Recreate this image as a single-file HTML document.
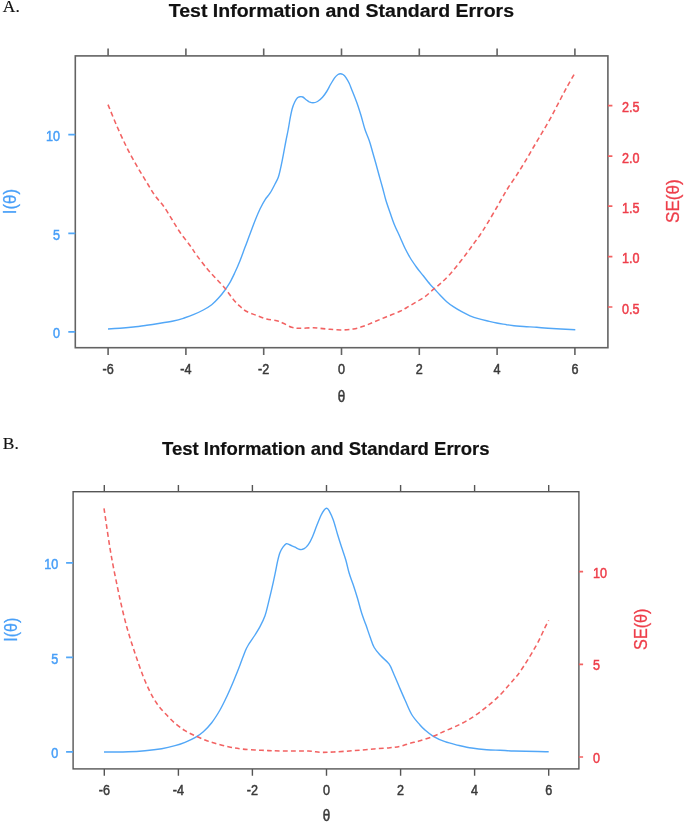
<!DOCTYPE html><html><head><meta charset="utf-8"><title>Test Information and Standard Errors</title>
<style>html,body{margin:0;padding:0;background:#fff}svg{display:block}text{font-family:"Liberation Sans",Arial,sans-serif}.ser{font-family:"Liberation Serif","Times New Roman",serif}</style></head><body>
<svg width="685" height="822" viewBox="0 0 685 822">
<rect width="685" height="822" fill="#fff"/>
<rect x="75.3" y="55.9" width="532.6" height="291.8" fill="none" stroke="#636363" stroke-width="1.6"/>
<text transform="translate(108.1,374.4) scale(1.0,1.15)" font-size="12.6" font-weight="normal" fill="#3a3a3a" stroke="#3a3a3a" stroke-width="0.45" text-anchor="middle">-6</text>
<text transform="translate(185.9,374.4) scale(1.0,1.15)" font-size="12.6" font-weight="normal" fill="#3a3a3a" stroke="#3a3a3a" stroke-width="0.45" text-anchor="middle">-4</text>
<text transform="translate(263.7,374.4) scale(1.0,1.15)" font-size="12.6" font-weight="normal" fill="#3a3a3a" stroke="#3a3a3a" stroke-width="0.45" text-anchor="middle">-2</text>
<text transform="translate(341.5,374.4) scale(1.0,1.15)" font-size="12.6" font-weight="normal" fill="#3a3a3a" stroke="#3a3a3a" stroke-width="0.45" text-anchor="middle">0</text>
<text transform="translate(419.3,374.4) scale(1.0,1.15)" font-size="12.6" font-weight="normal" fill="#3a3a3a" stroke="#3a3a3a" stroke-width="0.45" text-anchor="middle">2</text>
<text transform="translate(497.1,374.4) scale(1.0,1.15)" font-size="12.6" font-weight="normal" fill="#3a3a3a" stroke="#3a3a3a" stroke-width="0.45" text-anchor="middle">4</text>
<text transform="translate(574.9,374.4) scale(1.0,1.15)" font-size="12.6" font-weight="normal" fill="#3a3a3a" stroke="#3a3a3a" stroke-width="0.45" text-anchor="middle">6</text>
<path d="M108.1,347.7v7.3M108.1,55.9v-7.3M185.9,347.7v7.3M185.9,55.9v-7.3M263.7,347.7v7.3M263.7,55.9v-7.3M341.5,347.7v7.3M341.5,55.9v-7.3M419.3,347.7v7.3M419.3,55.9v-7.3M497.1,347.7v7.3M497.1,55.9v-7.3M574.9,347.7v7.3M574.9,55.9v-7.3" stroke="#636363" stroke-width="1.6" fill="none"/>
<text transform="translate(60,338.4) scale(1.0,1.15)" font-size="12.6" font-weight="normal" fill="#489ff8" stroke="#489ff8" stroke-width="0.45" text-anchor="end">0</text>
<text transform="translate(60,239.8) scale(1.0,1.15)" font-size="12.6" font-weight="normal" fill="#489ff8" stroke="#489ff8" stroke-width="0.45" text-anchor="end">5</text>
<text transform="translate(60,141.2) scale(1.0,1.15)" font-size="12.6" font-weight="normal" fill="#489ff8" stroke="#489ff8" stroke-width="0.45" text-anchor="end">10</text>
<path d="M75.3,331.9h-7M75.3,233.3h-7M75.3,134.7h-7" stroke="#52a7f7" stroke-width="1.7" fill="none"/>
<text transform="translate(622,313.5) scale(1.0,1.15)" font-size="12.6" font-weight="normal" fill="#ee3e4a" stroke="#ee3e4a" stroke-width="0.45" text-anchor="start">0.5</text>
<text transform="translate(622,263.1) scale(1.0,1.15)" font-size="12.6" font-weight="normal" fill="#ee3e4a" stroke="#ee3e4a" stroke-width="0.45" text-anchor="start">1.0</text>
<text transform="translate(622,212.7) scale(1.0,1.15)" font-size="12.6" font-weight="normal" fill="#ee3e4a" stroke="#ee3e4a" stroke-width="0.45" text-anchor="start">1.5</text>
<text transform="translate(622,162.6) scale(1.0,1.15)" font-size="12.6" font-weight="normal" fill="#ee3e4a" stroke="#ee3e4a" stroke-width="0.45" text-anchor="start">2.0</text>
<text transform="translate(622,112.1) scale(1.0,1.15)" font-size="12.6" font-weight="normal" fill="#ee3e4a" stroke="#ee3e4a" stroke-width="0.45" text-anchor="start">2.5</text>
<path d="M607.9,307.0h4.5M607.9,256.6h4.5M607.9,206.2h4.5M607.9,156.1h4.5M607.9,105.6h4.5" stroke="#f26262" stroke-width="1.7" fill="none"/>
<path d="M108.0,329.0C110.0,328.9 115.8,328.6 120.0,328.3C124.2,328.0 128.9,327.5 133.3,327.0C137.8,326.5 142.2,325.9 146.7,325.3C151.1,324.7 155.6,324.0 160.0,323.3C164.4,322.6 169.4,321.8 173.3,321.0C177.2,320.2 180.0,319.4 183.3,318.3C186.6,317.2 190.0,316.1 193.3,314.7C196.6,313.3 200.2,311.7 203.3,310.0C206.4,308.3 209.2,306.6 211.7,304.7C214.2,302.8 216.1,300.8 218.3,298.3C220.5,295.9 223.1,292.7 225.0,290.0C226.9,287.3 228.3,285.2 230.0,282.3C231.7,279.4 233.3,275.9 235.0,272.3C236.7,268.7 238.3,264.9 240.0,260.7C241.7,256.5 243.3,251.8 245.0,247.3C246.7,242.9 248.3,238.4 250.0,234.0C251.7,229.6 253.3,224.9 255.0,220.7C256.7,216.5 258.3,212.5 260.0,209.0C261.7,205.5 263.3,202.4 265.0,199.8C266.7,197.2 268.3,195.8 270.0,193.2C271.7,190.6 273.6,186.7 275.0,184.0C276.4,181.3 277.3,180.1 278.3,177.3C279.3,174.5 280.0,171.1 280.8,167.3C281.6,163.6 282.5,159.1 283.3,154.8C284.1,150.5 285.0,145.8 285.8,141.5C286.6,137.2 287.6,133.0 288.3,129.0C289.1,125.0 289.6,120.8 290.3,117.3C291.0,113.8 291.7,110.3 292.5,107.7C293.3,105.1 294.2,103.2 295.0,101.5C295.8,99.8 296.7,98.5 297.5,97.7C298.3,96.9 299.1,96.8 300.0,96.7C300.9,96.6 301.8,96.5 302.8,97.0C303.8,97.5 304.7,98.7 305.8,99.5C306.9,100.3 308.0,101.2 309.2,101.8C310.4,102.3 311.6,102.8 313.0,102.8C314.4,102.8 315.9,102.4 317.5,101.5C319.1,100.6 321.0,99.0 322.5,97.3C324.0,95.6 325.3,93.7 326.7,91.5C328.1,89.3 329.4,86.4 330.8,84.0C332.2,81.6 333.8,78.9 335.0,77.3C336.2,75.7 337.1,75.1 338.0,74.5C338.9,73.9 339.5,73.7 340.3,73.7C341.1,73.7 342.1,73.9 343.0,74.5C343.9,75.1 344.8,75.8 345.8,77.3C346.8,78.8 348.1,80.8 349.2,83.2C350.3,85.6 351.2,88.3 352.5,91.5C353.8,94.7 355.3,98.4 356.7,102.3C358.1,106.2 359.4,110.3 360.8,114.8C362.2,119.3 363.5,125.0 364.9,129.3C366.3,133.6 367.9,136.8 369.2,140.5C370.5,144.2 371.4,147.9 372.5,151.7C373.6,155.5 374.7,159.3 375.8,163.3C376.9,167.3 378.1,171.8 379.2,175.8C380.3,179.8 381.4,183.5 382.5,187.5C383.6,191.5 384.6,195.8 385.8,200.0C387.1,204.2 388.6,208.5 390.0,212.5C391.4,216.5 392.5,220.1 394.2,224.2C395.9,228.3 398.2,233.0 400.0,237.0C401.8,241.0 403.3,244.9 405.0,248.3C406.7,251.7 408.1,254.3 410.0,257.5C411.9,260.7 414.5,264.4 416.7,267.5C418.9,270.6 421.1,273.0 423.3,275.8C425.5,278.6 428.2,282.1 430.0,284.2C431.8,286.3 432.5,286.9 434.2,288.7C435.9,290.5 437.9,292.8 440.0,295.0C442.1,297.2 444.5,299.8 446.7,301.7C448.9,303.6 450.8,305.0 453.3,306.7C455.8,308.4 458.9,310.2 461.7,311.7C464.5,313.2 467.2,314.6 470.0,315.8C472.8,317.0 475.5,317.9 478.3,318.7C481.1,319.5 483.6,320.1 486.7,320.8C489.8,321.5 493.4,322.4 496.7,323.0C500.0,323.6 503.8,324.2 506.7,324.7C509.6,325.1 511.8,325.4 514.0,325.7C516.2,326.0 516.2,326.0 520.0,326.3C523.8,326.6 532.0,327.0 536.7,327.3C541.4,327.6 541.6,327.9 548.0,328.3C554.4,328.7 570.8,329.5 575.3,329.7" stroke="#52a7f7" stroke-width="1.4" fill="none" stroke-linejoin="round"/>
<path d="M108.0,104.6C109.5,108.1 113.6,118.6 116.7,125.7C119.8,132.8 123.4,140.6 126.7,147.3C130.0,154.0 133.4,159.9 136.7,165.7C140.0,171.5 143.6,177.3 146.7,182.3C149.8,187.3 152.2,191.8 155.0,195.7C157.8,199.6 160.5,201.8 163.3,205.7C166.1,209.6 168.9,214.6 171.7,219.0C174.5,223.4 176.9,227.9 180.0,232.3C183.1,236.7 187.2,241.7 190.0,245.5C192.8,249.3 193.9,251.5 196.7,255.3C199.5,259.1 203.6,264.6 206.7,268.3C209.8,272.0 211.9,274.2 215.0,277.5C218.1,280.8 221.9,284.6 225.0,288.3C228.1,292.0 230.8,296.5 233.3,299.5C235.8,302.5 237.8,304.3 240.0,306.3C242.2,308.3 243.9,310.0 246.7,311.5C249.5,313.0 253.4,314.2 256.7,315.5C260.0,316.8 263.4,318.1 266.7,319.0C270.0,319.9 273.9,320.0 276.7,320.7C279.5,321.4 280.8,322.2 283.3,323.3C285.8,324.4 288.9,326.5 291.7,327.3C294.5,328.1 296.4,328.2 300.0,328.3C303.6,328.4 310.0,327.7 313.3,327.7C316.6,327.7 317.2,328.0 320.0,328.3C322.8,328.6 326.4,329.0 330.0,329.3C333.6,329.6 337.8,330.1 341.7,330.0C345.6,329.9 349.7,329.6 353.3,329.0C356.9,328.4 360.0,327.4 363.3,326.3C366.6,325.2 369.4,323.9 373.3,322.3C377.2,320.7 382.2,318.5 386.7,316.7C391.1,314.9 396.4,313.0 400.0,311.3C403.6,309.6 405.5,308.3 408.3,306.7C411.1,305.1 413.9,303.4 416.7,301.7C419.5,300.0 422.1,298.9 425.0,296.7C427.9,294.5 431.4,291.1 434.2,288.7C437.0,286.3 439.1,284.9 441.7,282.5C444.3,280.1 447.2,277.2 450.0,274.2C452.8,271.1 455.5,267.7 458.3,264.2C461.1,260.7 464.2,256.6 466.7,253.3C469.2,250.0 471.1,247.2 473.3,244.2C475.5,241.1 477.8,238.3 480.0,235.0C482.2,231.7 483.9,229.1 486.7,224.5C489.5,219.9 494.0,212.2 496.7,207.5C499.4,202.8 501.1,199.8 503.0,196.5C504.9,193.2 506.0,191.1 508.3,187.5C510.6,183.9 513.9,179.3 516.7,175.0C519.5,170.7 522.2,166.3 525.0,161.7C527.8,157.1 530.5,152.2 533.3,147.5C536.1,142.8 538.9,138.0 541.7,133.3C544.5,128.6 547.2,124.2 550.0,119.2C552.8,114.2 555.5,108.6 558.3,103.3C561.1,98.0 564.1,92.3 566.7,87.5C569.4,82.7 573.0,76.4 574.2,74.2" stroke="#f26262" stroke-width="1.55" fill="none" stroke-dasharray="4.8 3.2" stroke-linejoin="round"/>
<text transform="translate(341.4,17.3) scale(1.055,1.0)" font-size="18.5" font-weight="bold" fill="#111" stroke="#111" stroke-width="0.2" text-anchor="middle">Test Information and Standard Errors</text>
<text transform="translate(341.5,401.5) scale(1.0,1.2)" font-size="13.4" font-weight="normal" fill="#3a3a3a" stroke="#3a3a3a" stroke-width="0.45" text-anchor="middle">θ</text>
<text transform="translate(16.3,201.6) rotate(-90) scale(1.0,1.12)" font-size="16.8" font-weight="normal" fill="#489ff8" stroke="#489ff8" stroke-width="0.25" text-anchor="middle">I(θ)</text>
<text transform="translate(678.6,201.1) rotate(-90) scale(1.0,1.12)" font-size="17.1" font-weight="normal" fill="#ee3e4a" stroke="#ee3e4a" stroke-width="0.25" text-anchor="middle">SE(θ)</text>
<rect x="73.1" y="491.7" width="505.79999999999995" height="277.2" fill="none" stroke="#555" stroke-width="1.4"/>
<text transform="translate(104.3,795.0) scale(1.0,1.15)" font-size="12.6" font-weight="normal" fill="#3a3a3a" stroke="#3a3a3a" stroke-width="0.45" text-anchor="middle">-6</text>
<text transform="translate(178.4,795.0) scale(1.0,1.15)" font-size="12.6" font-weight="normal" fill="#3a3a3a" stroke="#3a3a3a" stroke-width="0.45" text-anchor="middle">-4</text>
<text transform="translate(252.4,795.0) scale(1.0,1.15)" font-size="12.6" font-weight="normal" fill="#3a3a3a" stroke="#3a3a3a" stroke-width="0.45" text-anchor="middle">-2</text>
<text transform="translate(326.5,795.0) scale(1.0,1.15)" font-size="12.6" font-weight="normal" fill="#3a3a3a" stroke="#3a3a3a" stroke-width="0.45" text-anchor="middle">0</text>
<text transform="translate(400.6,795.0) scale(1.0,1.15)" font-size="12.6" font-weight="normal" fill="#3a3a3a" stroke="#3a3a3a" stroke-width="0.45" text-anchor="middle">2</text>
<text transform="translate(474.6,795.0) scale(1.0,1.15)" font-size="12.6" font-weight="normal" fill="#3a3a3a" stroke="#3a3a3a" stroke-width="0.45" text-anchor="middle">4</text>
<text transform="translate(548.7,795.0) scale(1.0,1.15)" font-size="12.6" font-weight="normal" fill="#3a3a3a" stroke="#3a3a3a" stroke-width="0.45" text-anchor="middle">6</text>
<path d="M104.3,768.9v6.8M104.3,491.7v-6.8M178.4,768.9v6.8M178.4,491.7v-6.8M252.4,768.9v6.8M252.4,491.7v-6.8M326.5,768.9v6.8M326.5,491.7v-6.8M400.6,768.9v6.8M400.6,491.7v-6.8M474.6,768.9v6.8M474.6,491.7v-6.8M548.7,768.9v6.8M548.7,491.7v-6.8" stroke="#555" stroke-width="1.4" fill="none"/>
<text transform="translate(58.3,758.3) scale(1.0,1.15)" font-size="12.6" font-weight="normal" fill="#489ff8" stroke="#489ff8" stroke-width="0.45" text-anchor="end">0</text>
<text transform="translate(58.3,663.8) scale(1.0,1.15)" font-size="12.6" font-weight="normal" fill="#489ff8" stroke="#489ff8" stroke-width="0.45" text-anchor="end">5</text>
<text transform="translate(58.3,569.3) scale(1.0,1.15)" font-size="12.6" font-weight="normal" fill="#489ff8" stroke="#489ff8" stroke-width="0.45" text-anchor="end">10</text>
<path d="M73.1,751.8h-7M73.1,657.3h-7M73.1,562.8h-7" stroke="#52a7f7" stroke-width="1.7" fill="none"/>
<text transform="translate(593,762.9) scale(1.0,1.15)" font-size="12.6" font-weight="normal" fill="#ee3e4a" stroke="#ee3e4a" stroke-width="0.45" text-anchor="start">0</text>
<text transform="translate(593,670.2) scale(1.0,1.15)" font-size="12.6" font-weight="normal" fill="#ee3e4a" stroke="#ee3e4a" stroke-width="0.45" text-anchor="start">5</text>
<text transform="translate(593,577.6) scale(1.0,1.15)" font-size="12.6" font-weight="normal" fill="#ee3e4a" stroke="#ee3e4a" stroke-width="0.45" text-anchor="start">10</text>
<path d="M578.9,757.0h4.2M578.9,664.3h4.2M578.9,571.7h4.2" stroke="#f26262" stroke-width="1.7" fill="none"/>
<path d="M104.0,752.0C108.0,752.0 121.5,751.9 128.3,751.7C135.1,751.5 139.4,751.2 145.0,750.7C150.6,750.2 156.7,749.5 161.7,748.7C166.7,747.9 171.1,746.8 175.0,745.7C178.9,744.6 181.7,743.6 185.0,742.3C188.3,741.0 191.9,739.5 195.0,737.7C198.1,735.9 200.5,734.2 203.3,731.7C206.1,729.2 208.9,726.3 211.7,722.7C214.5,719.1 217.5,714.3 220.0,710.0C222.5,705.7 224.5,701.4 226.7,696.7C228.9,692.0 231.1,687.0 233.3,681.7C235.5,676.4 238.1,670.0 240.0,665.0C241.9,660.0 243.6,655.0 245.0,651.7C246.4,648.4 246.6,647.8 248.3,645.0C250.0,642.2 253.1,638.0 255.0,635.0C256.9,632.0 258.3,629.9 260.0,626.7C261.7,623.5 263.6,619.7 265.0,615.8C266.4,611.9 267.2,607.7 268.3,603.3C269.4,598.9 270.6,594.1 271.7,589.2C272.8,584.4 274.0,578.8 275.0,574.2C276.0,569.6 276.7,565.3 277.5,561.7C278.3,558.1 279.0,555.0 280.0,552.5C281.0,550.0 282.2,548.2 283.3,546.7C284.4,545.2 285.2,544.0 286.3,543.7C287.4,543.4 288.6,544.4 290.0,545.0C291.4,545.6 293.3,546.5 295.0,547.2C296.7,548.0 298.5,549.2 300.0,549.5C301.5,549.8 302.8,549.5 304.2,548.7C305.6,547.9 306.9,546.7 308.3,544.7C309.7,542.7 311.1,539.9 312.5,536.7C313.9,533.6 315.3,529.3 316.7,525.8C318.1,522.3 319.6,518.4 320.8,515.8C322.1,513.2 323.2,511.2 324.2,510.0C325.2,508.8 325.9,508.2 326.7,508.3C327.5,508.4 328.1,508.9 329.2,510.8C330.3,512.8 331.9,516.1 333.3,520.0C334.7,523.9 336.1,529.6 337.5,534.2C338.9,538.8 340.3,543.2 341.7,547.5C343.1,551.8 344.6,555.7 345.8,560.0C347.1,564.3 347.9,569.1 349.2,573.3C350.4,577.5 351.9,580.8 353.3,585.0C354.7,589.2 356.1,593.6 357.5,598.3C358.9,603.0 360.3,608.9 361.7,613.3C363.1,617.7 364.4,620.7 365.8,624.6C367.2,628.5 368.6,632.9 370.0,636.7C371.4,640.5 372.4,644.3 374.2,647.5C376.0,650.7 378.3,653.0 380.8,655.8C383.3,658.6 387.0,661.0 389.2,664.2C391.4,667.4 392.5,671.2 394.2,675.0C395.9,678.8 397.4,682.5 399.2,686.7C401.0,690.9 402.9,695.4 405.0,700.0C407.1,704.6 409.2,710.3 411.7,714.5C414.2,718.7 417.8,722.4 420.0,725.0C422.2,727.6 422.8,728.1 425.0,730.0C427.2,731.9 430.0,734.3 433.3,736.3C436.6,738.2 440.8,740.2 445.0,741.7C449.2,743.2 453.9,744.2 458.3,745.3C462.8,746.3 467.0,747.3 471.7,748.0C476.4,748.7 482.0,749.3 486.7,749.7C491.4,750.1 495.4,750.1 500.0,750.3C504.6,750.5 507.7,750.8 514.0,751.0C520.3,751.2 532.2,751.4 538.0,751.5C543.8,751.6 546.9,751.8 548.7,751.8" stroke="#52a7f7" stroke-width="1.4" fill="none" stroke-linejoin="round"/>
<path d="M104.0,508.3C104.5,511.4 105.7,520.0 106.7,526.7C107.7,533.4 108.9,541.6 110.0,548.3C111.1,555.0 112.0,560.0 113.3,566.7C114.6,573.4 116.3,581.6 117.7,588.3C119.1,595.0 120.2,600.3 121.7,606.7C123.2,613.1 125.0,620.6 126.7,626.7C128.4,632.8 130.0,638.0 131.7,643.3C133.4,648.6 134.8,652.7 136.7,658.3C138.6,663.9 141.1,671.1 143.3,676.7C145.5,682.3 147.8,687.3 150.0,691.7C152.2,696.1 154.2,699.7 156.7,703.3C159.2,706.9 161.9,710.0 165.0,713.3C168.1,716.6 171.7,720.4 175.0,723.3C178.3,726.2 181.7,728.6 185.0,730.7C188.3,732.8 191.7,734.2 195.0,735.7C198.3,737.2 201.7,738.7 205.0,740.0C208.3,741.3 211.1,742.2 215.0,743.3C218.9,744.4 223.9,745.8 228.3,746.7C232.8,747.7 236.1,748.4 241.7,749.0C247.3,749.6 255.0,750.0 261.7,750.3C268.4,750.6 273.9,750.9 281.7,751.0C289.5,751.1 301.9,750.8 308.3,751.0C314.7,751.2 315.8,752.1 320.0,752.3C324.2,752.5 327.8,752.3 333.3,752.0C338.9,751.7 346.6,751.2 353.3,750.7C360.0,750.2 367.2,749.5 373.3,749.0C379.4,748.5 385.6,748.2 390.0,747.7C394.4,747.2 396.7,747.0 400.0,746.3C403.3,745.6 406.7,744.2 410.0,743.3C413.3,742.4 416.1,742.0 420.0,740.8C423.9,739.6 429.4,737.8 433.3,736.3C437.2,734.8 439.7,733.3 443.3,731.7C446.9,730.1 451.1,728.5 455.0,726.7C458.9,724.9 462.8,723.0 466.7,720.8C470.6,718.6 474.4,716.1 478.3,713.3C482.2,710.5 486.4,707.2 490.0,704.2C493.6,701.2 496.9,698.1 500.0,695.0C503.1,691.9 506.0,688.4 508.3,685.8C510.6,683.2 512.3,681.1 514.0,679.2C515.7,677.3 516.5,676.7 518.3,674.2C520.1,671.7 522.8,667.7 525.0,664.2C527.2,660.7 529.5,657.0 531.7,653.3C533.9,649.5 536.2,645.7 538.3,641.7C540.4,637.7 542.5,632.8 544.2,629.2C545.9,625.6 548.0,621.8 548.7,620.3" stroke="#f26262" stroke-width="1.55" fill="none" stroke-dasharray="4.8 3.2" stroke-linejoin="round"/>
<text transform="translate(325.8,455.2) scale(1.0,1.0)" font-size="18.5" font-weight="bold" fill="#111" stroke="#111" stroke-width="0.2" text-anchor="middle">Test Information and Standard Errors</text>
<text transform="translate(326.5,820.6) scale(1.0,1.2)" font-size="13.4" font-weight="normal" fill="#3a3a3a" stroke="#3a3a3a" stroke-width="0.45" text-anchor="middle">θ</text>
<text transform="translate(16.6,629.7) rotate(-90) scale(1.0,1.1)" font-size="16.1" font-weight="normal" fill="#489ff8" stroke="#489ff8" stroke-width="0.25" text-anchor="middle">I(θ)</text>
<text transform="translate(646.6,629.2) rotate(-90) scale(1.0,1.13)" font-size="16.2" font-weight="normal" fill="#ee3e4a" stroke="#ee3e4a" stroke-width="0.25" text-anchor="middle">SE(θ)</text>
<text class="ser" transform="translate(2.8,11.9) scale(1.05,1.0)" font-size="16.6" font-weight="normal" fill="#111" stroke="#111" stroke-width="0.15" text-anchor="start">A.</text>
<text class="ser" transform="translate(2.8,449.2) scale(1.05,1.0)" font-size="16.6" font-weight="normal" fill="#111" stroke="#111" stroke-width="0.15" text-anchor="start">B.</text>
</svg></body></html>
